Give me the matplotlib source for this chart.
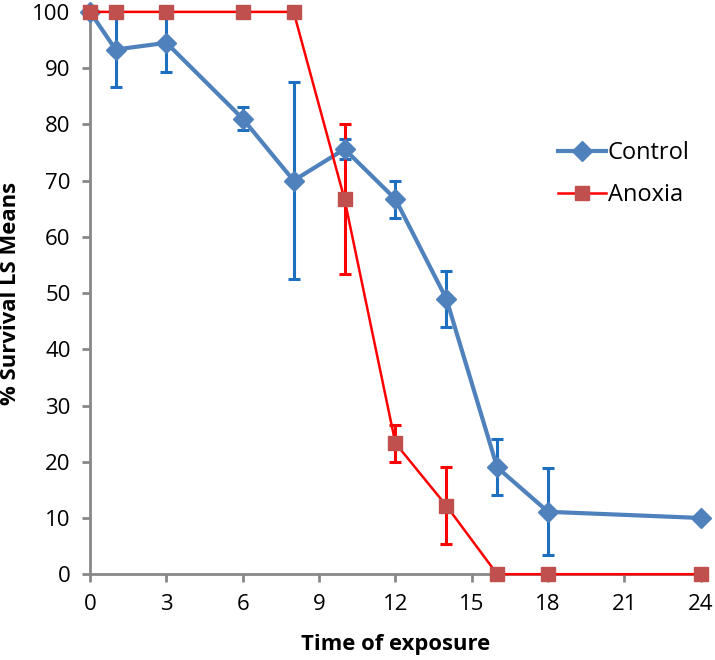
import matplotlib
matplotlib.use("Agg")
import matplotlib.pyplot as plt

times = [0, 1, 3, 6, 8, 10, 12, 14, 16, 18, 24]
control = [100, 93.3, 94.5, 81, 70, 75.6, 66.7, 49, 19, 11.1, 10]
control_err = [0, 6.7, 5.2, 2, 17.5, 1.8, 3.3, 5, 5, 7.7, 0]
anoxia = [100, 100, 100, 100, 100, 66.7, 23.3, 12.2, 0, 0, 0]
anoxia_err = [0, 0, 0, 0, 0, 13.3, 3.3, 6.9, 0, 0, 0]
xticks = [0, 3, 6, 9, 12, 15, 18, 21, 24]
yticks = [0, 10, 20, 30, 40, 50, 60, 70, 80, 90, 100]

plt.rcParams['font.family'] = ['Open Sans', 'DejaVu Sans']

fig = plt.figure(figsize=(7.15, 6.6), dpi=100)
ax = fig.add_axes([0.126, 0.130, 0.854, 0.852])

ax.errorbar(times, control, yerr=control_err, fmt='none', ecolor='#1F6FC0',
            elinewidth=2.2, capsize=4, capthick=2.2, zorder=2)
ax.errorbar(times, anoxia, yerr=anoxia_err, fmt='none', ecolor='#FF0000',
            elinewidth=2.2, capsize=4, capthick=2.2, zorder=2)
ax.plot(times, control, color='#4F81BD', lw=3, marker='D', ms=10,
        mfc='#4F81BD', mec='#4F81BD', label='Control', zorder=3, clip_on=False)
ax.plot(times, anoxia, color='#FF0000', lw=1.8, marker='s', ms=10,
        mfc='#C0504D', mec='#C0504D', label='Anoxia', zorder=4, clip_on=False)

ax.set_xlim(0, 24)
ax.set_ylim(0, 100)
ax.set_xticks(xticks)
ax.set_yticks(yticks)
for s in ['top', 'right']:
    ax.spines[s].set_visible(False)
for s in ['left', 'bottom']:
    ax.spines[s].set_color('#888888')
    ax.spines[s].set_linewidth(2)
ax.tick_params(axis='both', colors='#888888', length=6, width=2, labelsize=16,
               labelcolor='black', direction='out', pad=8)
ax.set_xlabel('Time of exposure', fontsize=15.8, fontweight='bold', labelpad=14)
ax.set_ylabel('% Survival LS Means', fontsize=15.8, fontweight='bold', labelpad=8)

leg = ax.legend(loc='upper left', bbox_to_anchor=(0.732, 0.808), frameon=False,
                fontsize=17, handlelength=2.0, handletextpad=0.1, labelspacing=0.75)

fig.savefig('out.png', dpi=100)
